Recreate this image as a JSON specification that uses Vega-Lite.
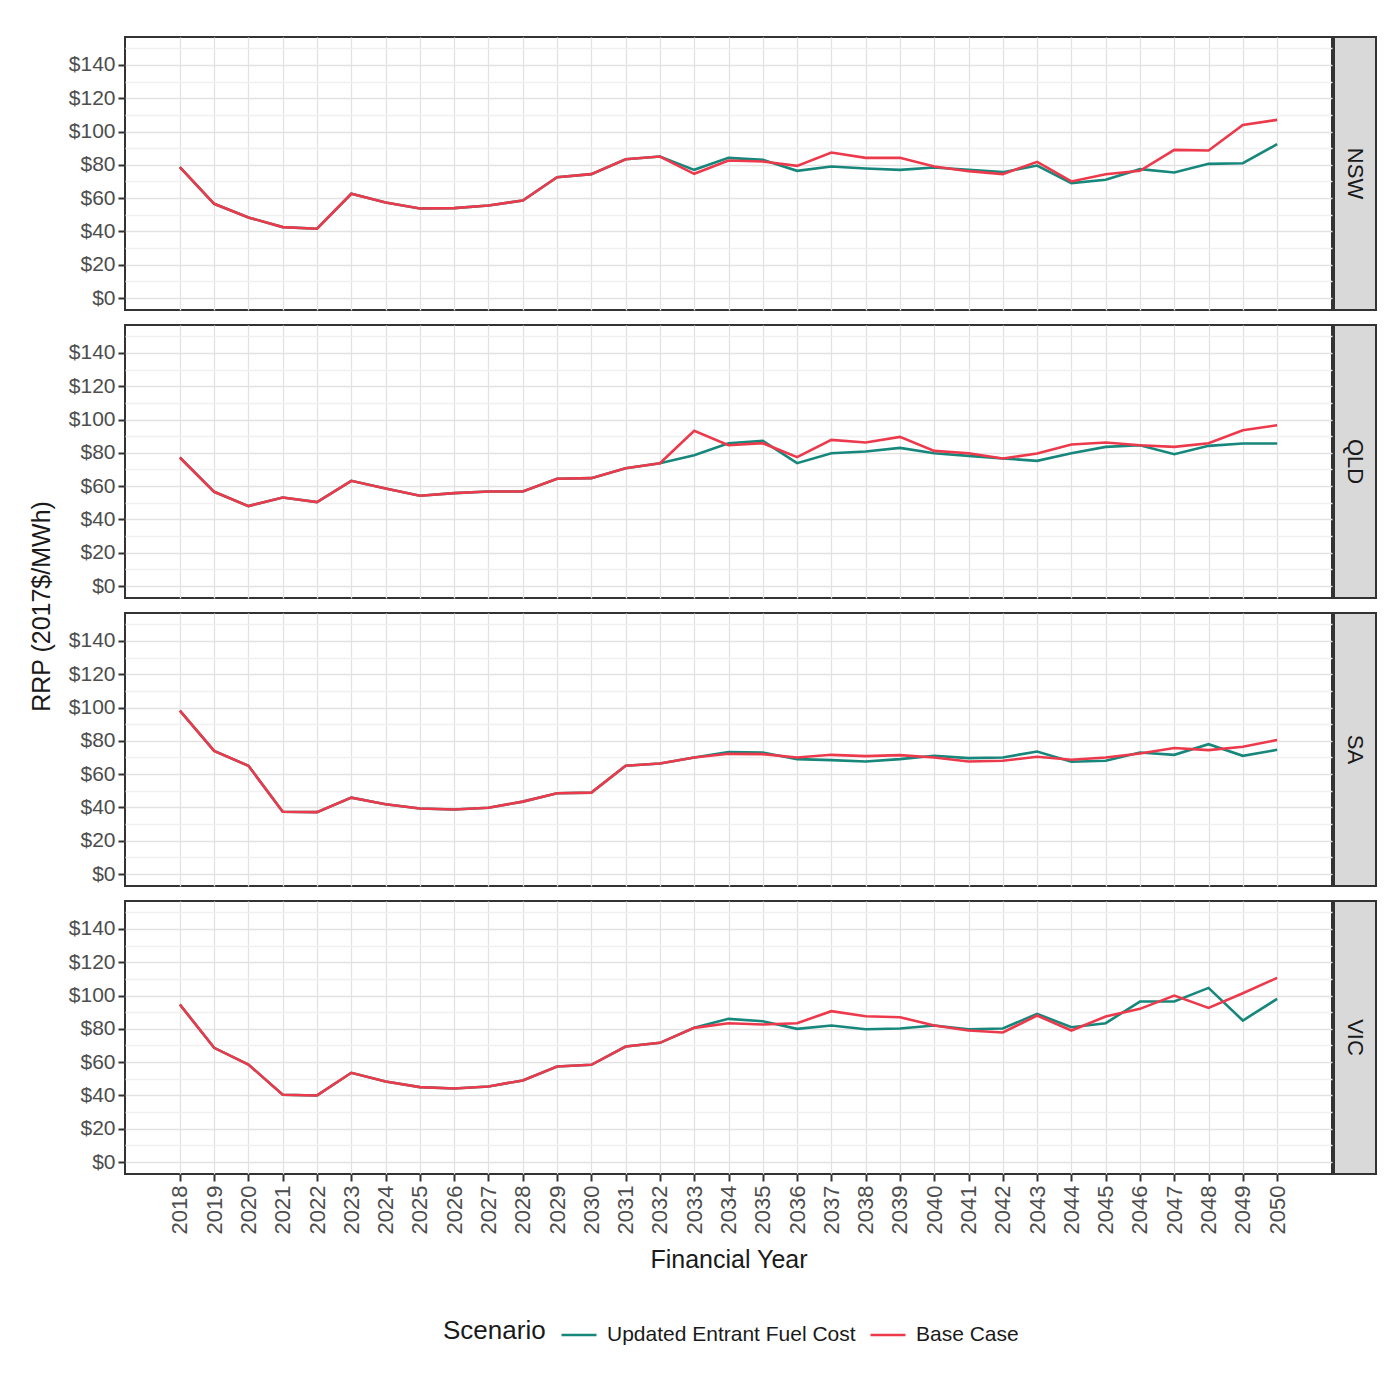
{
  "$schema": "https://vega.github.io/schema/vega-lite/v6.json",
  "background": "white",
  "padding": {"left": 28, "top": 36, "right": 10, "bottom": 10},
  "spacing": 0,
  "datasets": {
    "prices": [
      {"region":"NSW","scenario":"Updated Entrant Fuel Cost","year":2018,"value":78.6},
      {"region":"NSW","scenario":"Updated Entrant Fuel Cost","year":2019,"value":56.6},
      {"region":"NSW","scenario":"Updated Entrant Fuel Cost","year":2020,"value":48.4},
      {"region":"NSW","scenario":"Updated Entrant Fuel Cost","year":2021,"value":42.6},
      {"region":"NSW","scenario":"Updated Entrant Fuel Cost","year":2022,"value":41.6},
      {"region":"NSW","scenario":"Updated Entrant Fuel Cost","year":2023,"value":62.6},
      {"region":"NSW","scenario":"Updated Entrant Fuel Cost","year":2024,"value":57.4},
      {"region":"NSW","scenario":"Updated Entrant Fuel Cost","year":2025,"value":53.8},
      {"region":"NSW","scenario":"Updated Entrant Fuel Cost","year":2026,"value":54.0},
      {"region":"NSW","scenario":"Updated Entrant Fuel Cost","year":2027,"value":55.6},
      {"region":"NSW","scenario":"Updated Entrant Fuel Cost","year":2028,"value":58.6},
      {"region":"NSW","scenario":"Updated Entrant Fuel Cost","year":2029,"value":72.6},
      {"region":"NSW","scenario":"Updated Entrant Fuel Cost","year":2030,"value":74.4},
      {"region":"NSW","scenario":"Updated Entrant Fuel Cost","year":2031,"value":83.4},
      {"region":"NSW","scenario":"Updated Entrant Fuel Cost","year":2032,"value":85.0},
      {"region":"NSW","scenario":"Updated Entrant Fuel Cost","year":2033,"value":77.0},
      {"region":"NSW","scenario":"Updated Entrant Fuel Cost","year":2034,"value":84.2},
      {"region":"NSW","scenario":"Updated Entrant Fuel Cost","year":2035,"value":83.0},
      {"region":"NSW","scenario":"Updated Entrant Fuel Cost","year":2036,"value":76.4},
      {"region":"NSW","scenario":"Updated Entrant Fuel Cost","year":2037,"value":79.0},
      {"region":"NSW","scenario":"Updated Entrant Fuel Cost","year":2038,"value":77.8},
      {"region":"NSW","scenario":"Updated Entrant Fuel Cost","year":2039,"value":77.0},
      {"region":"NSW","scenario":"Updated Entrant Fuel Cost","year":2040,"value":78.4},
      {"region":"NSW","scenario":"Updated Entrant Fuel Cost","year":2041,"value":77.0},
      {"region":"NSW","scenario":"Updated Entrant Fuel Cost","year":2042,"value":75.6},
      {"region":"NSW","scenario":"Updated Entrant Fuel Cost","year":2043,"value":79.6},
      {"region":"NSW","scenario":"Updated Entrant Fuel Cost","year":2044,"value":69.0},
      {"region":"NSW","scenario":"Updated Entrant Fuel Cost","year":2045,"value":71.0},
      {"region":"NSW","scenario":"Updated Entrant Fuel Cost","year":2046,"value":77.4},
      {"region":"NSW","scenario":"Updated Entrant Fuel Cost","year":2047,"value":75.4},
      {"region":"NSW","scenario":"Updated Entrant Fuel Cost","year":2048,"value":80.6},
      {"region":"NSW","scenario":"Updated Entrant Fuel Cost","year":2049,"value":81.0},
      {"region":"NSW","scenario":"Updated Entrant Fuel Cost","year":2050,"value":92.4},
      {"region":"QLD","scenario":"Updated Entrant Fuel Cost","year":2018,"value":77.2},
      {"region":"QLD","scenario":"Updated Entrant Fuel Cost","year":2019,"value":56.6},
      {"region":"QLD","scenario":"Updated Entrant Fuel Cost","year":2020,"value":48.0},
      {"region":"QLD","scenario":"Updated Entrant Fuel Cost","year":2021,"value":53.2},
      {"region":"QLD","scenario":"Updated Entrant Fuel Cost","year":2022,"value":50.4},
      {"region":"QLD","scenario":"Updated Entrant Fuel Cost","year":2023,"value":63.2},
      {"region":"QLD","scenario":"Updated Entrant Fuel Cost","year":2024,"value":58.6},
      {"region":"QLD","scenario":"Updated Entrant Fuel Cost","year":2025,"value":54.2},
      {"region":"QLD","scenario":"Updated Entrant Fuel Cost","year":2026,"value":55.8},
      {"region":"QLD","scenario":"Updated Entrant Fuel Cost","year":2027,"value":56.8},
      {"region":"QLD","scenario":"Updated Entrant Fuel Cost","year":2028,"value":56.8},
      {"region":"QLD","scenario":"Updated Entrant Fuel Cost","year":2029,"value":64.4},
      {"region":"QLD","scenario":"Updated Entrant Fuel Cost","year":2030,"value":64.8},
      {"region":"QLD","scenario":"Updated Entrant Fuel Cost","year":2031,"value":70.8},
      {"region":"QLD","scenario":"Updated Entrant Fuel Cost","year":2032,"value":73.8},
      {"region":"QLD","scenario":"Updated Entrant Fuel Cost","year":2033,"value":78.6},
      {"region":"QLD","scenario":"Updated Entrant Fuel Cost","year":2034,"value":85.8},
      {"region":"QLD","scenario":"Updated Entrant Fuel Cost","year":2035,"value":87.2},
      {"region":"QLD","scenario":"Updated Entrant Fuel Cost","year":2036,"value":73.8},
      {"region":"QLD","scenario":"Updated Entrant Fuel Cost","year":2037,"value":79.8},
      {"region":"QLD","scenario":"Updated Entrant Fuel Cost","year":2038,"value":80.8},
      {"region":"QLD","scenario":"Updated Entrant Fuel Cost","year":2039,"value":83.0},
      {"region":"QLD","scenario":"Updated Entrant Fuel Cost","year":2040,"value":79.8},
      {"region":"QLD","scenario":"Updated Entrant Fuel Cost","year":2041,"value":78.2},
      {"region":"QLD","scenario":"Updated Entrant Fuel Cost","year":2042,"value":76.6},
      {"region":"QLD","scenario":"Updated Entrant Fuel Cost","year":2043,"value":75.2},
      {"region":"QLD","scenario":"Updated Entrant Fuel Cost","year":2044,"value":79.8},
      {"region":"QLD","scenario":"Updated Entrant Fuel Cost","year":2045,"value":83.6},
      {"region":"QLD","scenario":"Updated Entrant Fuel Cost","year":2046,"value":84.6},
      {"region":"QLD","scenario":"Updated Entrant Fuel Cost","year":2047,"value":79.2},
      {"region":"QLD","scenario":"Updated Entrant Fuel Cost","year":2048,"value":84.2},
      {"region":"QLD","scenario":"Updated Entrant Fuel Cost","year":2049,"value":85.6},
      {"region":"QLD","scenario":"Updated Entrant Fuel Cost","year":2050,"value":85.6},
      {"region":"SA","scenario":"Updated Entrant Fuel Cost","year":2018,"value":98.2},
      {"region":"SA","scenario":"Updated Entrant Fuel Cost","year":2019,"value":74.0},
      {"region":"SA","scenario":"Updated Entrant Fuel Cost","year":2020,"value":65.0},
      {"region":"SA","scenario":"Updated Entrant Fuel Cost","year":2021,"value":37.4},
      {"region":"SA","scenario":"Updated Entrant Fuel Cost","year":2022,"value":37.2},
      {"region":"SA","scenario":"Updated Entrant Fuel Cost","year":2023,"value":45.9},
      {"region":"SA","scenario":"Updated Entrant Fuel Cost","year":2024,"value":41.9},
      {"region":"SA","scenario":"Updated Entrant Fuel Cost","year":2025,"value":39.4},
      {"region":"SA","scenario":"Updated Entrant Fuel Cost","year":2026,"value":38.8},
      {"region":"SA","scenario":"Updated Entrant Fuel Cost","year":2027,"value":39.8},
      {"region":"SA","scenario":"Updated Entrant Fuel Cost","year":2028,"value":43.5},
      {"region":"SA","scenario":"Updated Entrant Fuel Cost","year":2029,"value":48.5},
      {"region":"SA","scenario":"Updated Entrant Fuel Cost","year":2030,"value":48.9},
      {"region":"SA","scenario":"Updated Entrant Fuel Cost","year":2031,"value":65.0},
      {"region":"SA","scenario":"Updated Entrant Fuel Cost","year":2032,"value":66.4},
      {"region":"SA","scenario":"Updated Entrant Fuel Cost","year":2033,"value":70.0},
      {"region":"SA","scenario":"Updated Entrant Fuel Cost","year":2034,"value":73.3},
      {"region":"SA","scenario":"Updated Entrant Fuel Cost","year":2035,"value":73.0},
      {"region":"SA","scenario":"Updated Entrant Fuel Cost","year":2036,"value":69.0},
      {"region":"SA","scenario":"Updated Entrant Fuel Cost","year":2037,"value":68.4},
      {"region":"SA","scenario":"Updated Entrant Fuel Cost","year":2038,"value":67.6},
      {"region":"SA","scenario":"Updated Entrant Fuel Cost","year":2039,"value":69.0},
      {"region":"SA","scenario":"Updated Entrant Fuel Cost","year":2040,"value":71.0},
      {"region":"SA","scenario":"Updated Entrant Fuel Cost","year":2041,"value":69.6},
      {"region":"SA","scenario":"Updated Entrant Fuel Cost","year":2042,"value":70.0},
      {"region":"SA","scenario":"Updated Entrant Fuel Cost","year":2043,"value":73.6},
      {"region":"SA","scenario":"Updated Entrant Fuel Cost","year":2044,"value":67.4},
      {"region":"SA","scenario":"Updated Entrant Fuel Cost","year":2045,"value":68.0},
      {"region":"SA","scenario":"Updated Entrant Fuel Cost","year":2046,"value":73.0},
      {"region":"SA","scenario":"Updated Entrant Fuel Cost","year":2047,"value":71.6},
      {"region":"SA","scenario":"Updated Entrant Fuel Cost","year":2048,"value":78.0},
      {"region":"SA","scenario":"Updated Entrant Fuel Cost","year":2049,"value":71.0},
      {"region":"SA","scenario":"Updated Entrant Fuel Cost","year":2050,"value":74.6},
      {"region":"VIC","scenario":"Updated Entrant Fuel Cost","year":2018,"value":94.6},
      {"region":"VIC","scenario":"Updated Entrant Fuel Cost","year":2019,"value":68.6},
      {"region":"VIC","scenario":"Updated Entrant Fuel Cost","year":2020,"value":58.6},
      {"region":"VIC","scenario":"Updated Entrant Fuel Cost","year":2021,"value":40.4},
      {"region":"VIC","scenario":"Updated Entrant Fuel Cost","year":2022,"value":40.0},
      {"region":"VIC","scenario":"Updated Entrant Fuel Cost","year":2023,"value":53.6},
      {"region":"VIC","scenario":"Updated Entrant Fuel Cost","year":2024,"value":48.4},
      {"region":"VIC","scenario":"Updated Entrant Fuel Cost","year":2025,"value":45.0},
      {"region":"VIC","scenario":"Updated Entrant Fuel Cost","year":2026,"value":44.2},
      {"region":"VIC","scenario":"Updated Entrant Fuel Cost","year":2027,"value":45.4},
      {"region":"VIC","scenario":"Updated Entrant Fuel Cost","year":2028,"value":49.0},
      {"region":"VIC","scenario":"Updated Entrant Fuel Cost","year":2029,"value":57.4},
      {"region":"VIC","scenario":"Updated Entrant Fuel Cost","year":2030,"value":58.4},
      {"region":"VIC","scenario":"Updated Entrant Fuel Cost","year":2031,"value":69.4},
      {"region":"VIC","scenario":"Updated Entrant Fuel Cost","year":2032,"value":71.6},
      {"region":"VIC","scenario":"Updated Entrant Fuel Cost","year":2033,"value":80.6},
      {"region":"VIC","scenario":"Updated Entrant Fuel Cost","year":2034,"value":86.0},
      {"region":"VIC","scenario":"Updated Entrant Fuel Cost","year":2035,"value":84.6},
      {"region":"VIC","scenario":"Updated Entrant Fuel Cost","year":2036,"value":80.0},
      {"region":"VIC","scenario":"Updated Entrant Fuel Cost","year":2037,"value":82.0},
      {"region":"VIC","scenario":"Updated Entrant Fuel Cost","year":2038,"value":79.8},
      {"region":"VIC","scenario":"Updated Entrant Fuel Cost","year":2039,"value":80.2},
      {"region":"VIC","scenario":"Updated Entrant Fuel Cost","year":2040,"value":82.0},
      {"region":"VIC","scenario":"Updated Entrant Fuel Cost","year":2041,"value":79.8},
      {"region":"VIC","scenario":"Updated Entrant Fuel Cost","year":2042,"value":80.2},
      {"region":"VIC","scenario":"Updated Entrant Fuel Cost","year":2043,"value":89.0},
      {"region":"VIC","scenario":"Updated Entrant Fuel Cost","year":2044,"value":81.0},
      {"region":"VIC","scenario":"Updated Entrant Fuel Cost","year":2045,"value":83.4},
      {"region":"VIC","scenario":"Updated Entrant Fuel Cost","year":2046,"value":96.4},
      {"region":"VIC","scenario":"Updated Entrant Fuel Cost","year":2047,"value":96.4},
      {"region":"VIC","scenario":"Updated Entrant Fuel Cost","year":2048,"value":104.6},
      {"region":"VIC","scenario":"Updated Entrant Fuel Cost","year":2049,"value":85.0},
      {"region":"VIC","scenario":"Updated Entrant Fuel Cost","year":2050,"value":98.0},
      {"region":"NSW","scenario":"Base Case","year":2018,"value":78.6},
      {"region":"NSW","scenario":"Base Case","year":2019,"value":56.6},
      {"region":"NSW","scenario":"Base Case","year":2020,"value":48.4},
      {"region":"NSW","scenario":"Base Case","year":2021,"value":42.6},
      {"region":"NSW","scenario":"Base Case","year":2022,"value":41.6},
      {"region":"NSW","scenario":"Base Case","year":2023,"value":62.6},
      {"region":"NSW","scenario":"Base Case","year":2024,"value":57.4},
      {"region":"NSW","scenario":"Base Case","year":2025,"value":53.8},
      {"region":"NSW","scenario":"Base Case","year":2026,"value":54.0},
      {"region":"NSW","scenario":"Base Case","year":2027,"value":55.6},
      {"region":"NSW","scenario":"Base Case","year":2028,"value":58.6},
      {"region":"NSW","scenario":"Base Case","year":2029,"value":72.6},
      {"region":"NSW","scenario":"Base Case","year":2030,"value":74.4},
      {"region":"NSW","scenario":"Base Case","year":2031,"value":83.4},
      {"region":"NSW","scenario":"Base Case","year":2032,"value":85.0},
      {"region":"NSW","scenario":"Base Case","year":2033,"value":74.6},
      {"region":"NSW","scenario":"Base Case","year":2034,"value":82.6},
      {"region":"NSW","scenario":"Base Case","year":2035,"value":82.0},
      {"region":"NSW","scenario":"Base Case","year":2036,"value":79.4},
      {"region":"NSW","scenario":"Base Case","year":2037,"value":87.4},
      {"region":"NSW","scenario":"Base Case","year":2038,"value":84.2},
      {"region":"NSW","scenario":"Base Case","year":2039,"value":84.2},
      {"region":"NSW","scenario":"Base Case","year":2040,"value":79.0},
      {"region":"NSW","scenario":"Base Case","year":2041,"value":76.2},
      {"region":"NSW","scenario":"Base Case","year":2042,"value":74.4},
      {"region":"NSW","scenario":"Base Case","year":2043,"value":81.8},
      {"region":"NSW","scenario":"Base Case","year":2044,"value":70.0},
      {"region":"NSW","scenario":"Base Case","year":2045,"value":74.4},
      {"region":"NSW","scenario":"Base Case","year":2046,"value":76.4},
      {"region":"NSW","scenario":"Base Case","year":2047,"value":89.0},
      {"region":"NSW","scenario":"Base Case","year":2048,"value":88.6},
      {"region":"NSW","scenario":"Base Case","year":2049,"value":104.0},
      {"region":"NSW","scenario":"Base Case","year":2050,"value":107.0},
      {"region":"QLD","scenario":"Base Case","year":2018,"value":77.2},
      {"region":"QLD","scenario":"Base Case","year":2019,"value":56.6},
      {"region":"QLD","scenario":"Base Case","year":2020,"value":48.0},
      {"region":"QLD","scenario":"Base Case","year":2021,"value":53.2},
      {"region":"QLD","scenario":"Base Case","year":2022,"value":50.4},
      {"region":"QLD","scenario":"Base Case","year":2023,"value":63.2},
      {"region":"QLD","scenario":"Base Case","year":2024,"value":58.6},
      {"region":"QLD","scenario":"Base Case","year":2025,"value":54.2},
      {"region":"QLD","scenario":"Base Case","year":2026,"value":55.8},
      {"region":"QLD","scenario":"Base Case","year":2027,"value":56.8},
      {"region":"QLD","scenario":"Base Case","year":2028,"value":56.8},
      {"region":"QLD","scenario":"Base Case","year":2029,"value":64.4},
      {"region":"QLD","scenario":"Base Case","year":2030,"value":64.8},
      {"region":"QLD","scenario":"Base Case","year":2031,"value":70.8},
      {"region":"QLD","scenario":"Base Case","year":2032,"value":73.8},
      {"region":"QLD","scenario":"Base Case","year":2033,"value":93.2},
      {"region":"QLD","scenario":"Base Case","year":2034,"value":84.6},
      {"region":"QLD","scenario":"Base Case","year":2035,"value":85.8},
      {"region":"QLD","scenario":"Base Case","year":2036,"value":77.4},
      {"region":"QLD","scenario":"Base Case","year":2037,"value":87.8},
      {"region":"QLD","scenario":"Base Case","year":2038,"value":86.2},
      {"region":"QLD","scenario":"Base Case","year":2039,"value":89.6},
      {"region":"QLD","scenario":"Base Case","year":2040,"value":81.2},
      {"region":"QLD","scenario":"Base Case","year":2041,"value":79.8},
      {"region":"QLD","scenario":"Base Case","year":2042,"value":76.6},
      {"region":"QLD","scenario":"Base Case","year":2043,"value":79.6},
      {"region":"QLD","scenario":"Base Case","year":2044,"value":85.0},
      {"region":"QLD","scenario":"Base Case","year":2045,"value":86.2},
      {"region":"QLD","scenario":"Base Case","year":2046,"value":84.6},
      {"region":"QLD","scenario":"Base Case","year":2047,"value":83.6},
      {"region":"QLD","scenario":"Base Case","year":2048,"value":85.8},
      {"region":"QLD","scenario":"Base Case","year":2049,"value":93.6},
      {"region":"QLD","scenario":"Base Case","year":2050,"value":96.6},
      {"region":"SA","scenario":"Base Case","year":2018,"value":98.2},
      {"region":"SA","scenario":"Base Case","year":2019,"value":74.0},
      {"region":"SA","scenario":"Base Case","year":2020,"value":65.0},
      {"region":"SA","scenario":"Base Case","year":2021,"value":37.4},
      {"region":"SA","scenario":"Base Case","year":2022,"value":37.2},
      {"region":"SA","scenario":"Base Case","year":2023,"value":45.9},
      {"region":"SA","scenario":"Base Case","year":2024,"value":41.9},
      {"region":"SA","scenario":"Base Case","year":2025,"value":39.4},
      {"region":"SA","scenario":"Base Case","year":2026,"value":38.8},
      {"region":"SA","scenario":"Base Case","year":2027,"value":39.8},
      {"region":"SA","scenario":"Base Case","year":2028,"value":43.5},
      {"region":"SA","scenario":"Base Case","year":2029,"value":48.5},
      {"region":"SA","scenario":"Base Case","year":2030,"value":48.9},
      {"region":"SA","scenario":"Base Case","year":2031,"value":65.0},
      {"region":"SA","scenario":"Base Case","year":2032,"value":66.4},
      {"region":"SA","scenario":"Base Case","year":2033,"value":70.0},
      {"region":"SA","scenario":"Base Case","year":2034,"value":72.2},
      {"region":"SA","scenario":"Base Case","year":2035,"value":72.0},
      {"region":"SA","scenario":"Base Case","year":2036,"value":70.0},
      {"region":"SA","scenario":"Base Case","year":2037,"value":71.6},
      {"region":"SA","scenario":"Base Case","year":2038,"value":70.8},
      {"region":"SA","scenario":"Base Case","year":2039,"value":71.4},
      {"region":"SA","scenario":"Base Case","year":2040,"value":70.0},
      {"region":"SA","scenario":"Base Case","year":2041,"value":67.6},
      {"region":"SA","scenario":"Base Case","year":2042,"value":68.0},
      {"region":"SA","scenario":"Base Case","year":2043,"value":70.4},
      {"region":"SA","scenario":"Base Case","year":2044,"value":68.6},
      {"region":"SA","scenario":"Base Case","year":2045,"value":70.0},
      {"region":"SA","scenario":"Base Case","year":2046,"value":72.4},
      {"region":"SA","scenario":"Base Case","year":2047,"value":75.7},
      {"region":"SA","scenario":"Base Case","year":2048,"value":74.4},
      {"region":"SA","scenario":"Base Case","year":2049,"value":76.5},
      {"region":"SA","scenario":"Base Case","year":2050,"value":80.5},
      {"region":"VIC","scenario":"Base Case","year":2018,"value":94.6},
      {"region":"VIC","scenario":"Base Case","year":2019,"value":68.6},
      {"region":"VIC","scenario":"Base Case","year":2020,"value":58.6},
      {"region":"VIC","scenario":"Base Case","year":2021,"value":40.4},
      {"region":"VIC","scenario":"Base Case","year":2022,"value":40.0},
      {"region":"VIC","scenario":"Base Case","year":2023,"value":53.6},
      {"region":"VIC","scenario":"Base Case","year":2024,"value":48.4},
      {"region":"VIC","scenario":"Base Case","year":2025,"value":45.0},
      {"region":"VIC","scenario":"Base Case","year":2026,"value":44.2},
      {"region":"VIC","scenario":"Base Case","year":2027,"value":45.4},
      {"region":"VIC","scenario":"Base Case","year":2028,"value":49.0},
      {"region":"VIC","scenario":"Base Case","year":2029,"value":57.4},
      {"region":"VIC","scenario":"Base Case","year":2030,"value":58.4},
      {"region":"VIC","scenario":"Base Case","year":2031,"value":69.4},
      {"region":"VIC","scenario":"Base Case","year":2032,"value":71.6},
      {"region":"VIC","scenario":"Base Case","year":2033,"value":80.6},
      {"region":"VIC","scenario":"Base Case","year":2034,"value":83.4},
      {"region":"VIC","scenario":"Base Case","year":2035,"value":82.6},
      {"region":"VIC","scenario":"Base Case","year":2036,"value":83.4},
      {"region":"VIC","scenario":"Base Case","year":2037,"value":90.6},
      {"region":"VIC","scenario":"Base Case","year":2038,"value":87.6},
      {"region":"VIC","scenario":"Base Case","year":2039,"value":87.0},
      {"region":"VIC","scenario":"Base Case","year":2040,"value":82.0},
      {"region":"VIC","scenario":"Base Case","year":2041,"value":79.0},
      {"region":"VIC","scenario":"Base Case","year":2042,"value":77.8},
      {"region":"VIC","scenario":"Base Case","year":2043,"value":88.0},
      {"region":"VIC","scenario":"Base Case","year":2044,"value":79.0},
      {"region":"VIC","scenario":"Base Case","year":2045,"value":87.4},
      {"region":"VIC","scenario":"Base Case","year":2046,"value":92.0},
      {"region":"VIC","scenario":"Base Case","year":2047,"value":100.0},
      {"region":"VIC","scenario":"Base Case","year":2048,"value":92.6},
      {"region":"VIC","scenario":"Base Case","year":2049,"value":101.4},
      {"region":"VIC","scenario":"Base Case","year":2050,"value":110.6}
    ],
    "strips": [{"region":"NSW"},{"region":"QLD"},{"region":"SA"},{"region":"VIC"}]
  },
  "hconcat": [
    {
      "spacing": 15, "bounds": "flush",
      "vconcat": [
        {
          "width": 1207, "height": 273,
          "data": {"name": "prices"},
          "transform": [{"filter": "datum.region === 'NSW'"}],
          "mark": {"type": "line", "strokeWidth": 2.6, "clip": true},
          "encoding": {
            "x": {"field": "year", "type": "quantitative", "scale": {"domain": [2016.4, 2051.6], "nice": false, "zero": false},
                  "axis": {"values": [2018,2019,2020,2021,2022,2023,2024,2025,2026,2027,2028,2029,2030,2031,2032,2033,2034,2035,2036,2037,2038,2039,2040,2041,2042,2043,2044,2045,2046,2047,2048,2049,2050], "labels": false, "ticks": false, "domain": false, "title": null, "grid": true}},
            "y": {"field": "value", "type": "quantitative", "scale": {"domain": [-7.2, 156.8], "nice": false, "zero": false},
                  "axis": {"values": [0,10,20,30,40,50,60,70,80,90,100,110,120,130,140,150], "labelExpr": "datum.value % 20 === 0 ? '$' + datum.value : ''", "labelOverlap": false, "gridColor": {"condition": {"test": "datum.value % 20 !== 0", "value": "#f0f0f0"}, "value": "#e2e2e2"}, "tickOpacity": {"condition": {"test": "datum.value % 20 !== 0", "value": 0}, "value": 1}, "domain": false, "title": null}},
            "color": {"field": "scenario", "type": "nominal", "scale": {"domain": ["Updated Entrant Fuel Cost", "Base Case"], "range": ["#17877b", "#ec3a4c"]},
                      "legend": {"orient": "none", "legendX": 318, "legendY": 1279, "direction": "horizontal", "titleOrient": "left", "title": "Scenario"}}
          }
        },
        {
          "width": 1207, "height": 273,
          "data": {"name": "prices"},
          "transform": [{"filter": "datum.region === 'QLD'"}],
          "mark": {"type": "line", "strokeWidth": 2.6, "clip": true},
          "encoding": {
            "x": {"field": "year", "type": "quantitative", "scale": {"domain": [2016.4, 2051.6], "nice": false, "zero": false},
                  "axis": {"values": [2018,2019,2020,2021,2022,2023,2024,2025,2026,2027,2028,2029,2030,2031,2032,2033,2034,2035,2036,2037,2038,2039,2040,2041,2042,2043,2044,2045,2046,2047,2048,2049,2050], "labels": false, "ticks": false, "domain": false, "title": null, "grid": true}},
            "y": {"field": "value", "type": "quantitative", "scale": {"domain": [-7.2, 156.8], "nice": false, "zero": false},
                  "axis": {"values": [0,10,20,30,40,50,60,70,80,90,100,110,120,130,140,150], "labelExpr": "datum.value % 20 === 0 ? '$' + datum.value : ''", "labelOverlap": false, "gridColor": {"condition": {"test": "datum.value % 20 !== 0", "value": "#f0f0f0"}, "value": "#e2e2e2"}, "tickOpacity": {"condition": {"test": "datum.value % 20 !== 0", "value": 0}, "value": 1}, "domain": false, "title": "RRP (2017$/MWh)", "titleY": 281, "titlePadding": 14}},
            "color": {"field": "scenario", "type": "nominal", "scale": {"domain": ["Updated Entrant Fuel Cost", "Base Case"], "range": ["#17877b", "#ec3a4c"]},
                      "legend": {"orient": "none", "legendX": 318, "legendY": 1279, "direction": "horizontal", "titleOrient": "left", "title": "Scenario"}}
          }
        },
        {
          "width": 1207, "height": 273,
          "data": {"name": "prices"},
          "transform": [{"filter": "datum.region === 'SA'"}],
          "mark": {"type": "line", "strokeWidth": 2.6, "clip": true},
          "encoding": {
            "x": {"field": "year", "type": "quantitative", "scale": {"domain": [2016.4, 2051.6], "nice": false, "zero": false},
                  "axis": {"values": [2018,2019,2020,2021,2022,2023,2024,2025,2026,2027,2028,2029,2030,2031,2032,2033,2034,2035,2036,2037,2038,2039,2040,2041,2042,2043,2044,2045,2046,2047,2048,2049,2050], "labels": false, "ticks": false, "domain": false, "title": null, "grid": true}},
            "y": {"field": "value", "type": "quantitative", "scale": {"domain": [-7.2, 156.8], "nice": false, "zero": false},
                  "axis": {"values": [0,10,20,30,40,50,60,70,80,90,100,110,120,130,140,150], "labelExpr": "datum.value % 20 === 0 ? '$' + datum.value : ''", "labelOverlap": false, "gridColor": {"condition": {"test": "datum.value % 20 !== 0", "value": "#f0f0f0"}, "value": "#e2e2e2"}, "tickOpacity": {"condition": {"test": "datum.value % 20 !== 0", "value": 0}, "value": 1}, "domain": false, "title": null}},
            "color": {"field": "scenario", "type": "nominal", "scale": {"domain": ["Updated Entrant Fuel Cost", "Base Case"], "range": ["#17877b", "#ec3a4c"]},
                      "legend": {"orient": "none", "legendX": 318, "legendY": 1279, "direction": "horizontal", "titleOrient": "left", "title": "Scenario"}}
          }
        },
        {
          "width": 1207, "height": 273,
          "data": {"name": "prices"},
          "transform": [{"filter": "datum.region === 'VIC'"}],
          "mark": {"type": "line", "strokeWidth": 2.6, "clip": true},
          "encoding": {
            "x": {"field": "year", "type": "quantitative", "scale": {"domain": [2016.4, 2051.6], "nice": false, "zero": false},
                  "axis": {"values": [2018,2019,2020,2021,2022,2023,2024,2025,2026,2027,2028,2029,2030,2031,2032,2033,2034,2035,2036,2037,2038,2039,2040,2041,2042,2043,2044,2045,2046,2047,2048,2049,2050], "format": "d", "labelAngle": 270, "labelOverlap": false, "labelFlush": false, "labelPadding": 4, "domain": false, "grid": true, "title": "Financial Year", "titlePadding": 14, "labelFontSize": 22}},
            "y": {"field": "value", "type": "quantitative", "scale": {"domain": [-7.2, 156.8], "nice": false, "zero": false},
                  "axis": {"values": [0,10,20,30,40,50,60,70,80,90,100,110,120,130,140,150], "labelExpr": "datum.value % 20 === 0 ? '$' + datum.value : ''", "labelOverlap": false, "gridColor": {"condition": {"test": "datum.value % 20 !== 0", "value": "#f0f0f0"}, "value": "#e2e2e2"}, "tickOpacity": {"condition": {"test": "datum.value % 20 !== 0", "value": 0}, "value": 1}, "domain": false, "title": null}},
            "color": {"field": "scenario", "type": "nominal", "scale": {"domain": ["Updated Entrant Fuel Cost", "Base Case"], "range": ["#17877b", "#ec3a4c"]},
                      "legend": {"orient": "none", "legendX": 318, "legendY": 1279, "direction": "horizontal", "titleOrient": "left", "title": "Scenario"}}
          }
        }
      ]
    },
    {
      "spacing": 15, "bounds": "flush",
      "vconcat": [
        {
          "width": 42, "height": 273,
          "data": {"name": "strips"},
          "transform": [{"filter": "datum.region === 'NSW'"}],
          "view": {"fill": "#d9d9d9", "stroke": "#333333", "strokeWidth": 2},
          "mark": {"type": "text", "angle": 90, "fontSize": 22, "color": "#1a1a1a", "font": "Liberation Sans"},
          "encoding": {
            "x": {"field": "region", "type": "nominal", "axis": null},
            "y": {"field": "region", "type": "nominal", "axis": null},
            "text": {"field": "region", "type": "nominal"}
          }
        },
        {
          "width": 42, "height": 273,
          "data": {"name": "strips"},
          "transform": [{"filter": "datum.region === 'QLD'"}],
          "view": {"fill": "#d9d9d9", "stroke": "#333333", "strokeWidth": 2},
          "mark": {"type": "text", "angle": 90, "fontSize": 22, "color": "#1a1a1a", "font": "Liberation Sans"},
          "encoding": {
            "x": {"field": "region", "type": "nominal", "axis": null},
            "y": {"field": "region", "type": "nominal", "axis": null},
            "text": {"field": "region", "type": "nominal"}
          }
        },
        {
          "width": 42, "height": 273,
          "data": {"name": "strips"},
          "transform": [{"filter": "datum.region === 'SA'"}],
          "view": {"fill": "#d9d9d9", "stroke": "#333333", "strokeWidth": 2},
          "mark": {"type": "text", "angle": 90, "fontSize": 22, "color": "#1a1a1a", "font": "Liberation Sans"},
          "encoding": {
            "x": {"field": "region", "type": "nominal", "axis": null},
            "y": {"field": "region", "type": "nominal", "axis": null},
            "text": {"field": "region", "type": "nominal"}
          }
        },
        {
          "width": 42, "height": 273,
          "data": {"name": "strips"},
          "transform": [{"filter": "datum.region === 'VIC'"}],
          "view": {"fill": "#d9d9d9", "stroke": "#333333", "strokeWidth": 2},
          "mark": {"type": "text", "angle": 90, "fontSize": 22, "color": "#1a1a1a", "font": "Liberation Sans"},
          "encoding": {
            "x": {"field": "region", "type": "nominal", "axis": null},
            "y": {"field": "region", "type": "nominal", "axis": null},
            "text": {"field": "region", "type": "nominal"}
          }
        }
      ]
    }
  ],
  "config": {
    "font": "Liberation Sans",
    "view": {"stroke": "#333333", "strokeWidth": 2},
    "axis": {
      "labelFont": "Liberation Sans", "labelFontSize": 21, "labelColor": "#4d4d4d", "labelPadding": 3,
      "titleFont": "Liberation Sans", "titleFontSize": 25, "titleFontWeight": "normal", "titleColor": "#1a1a1a",
      "tickColor": "#333333", "tickSize": 7, "tickWidth": 2,
      "gridColor": "#e2e2e2", "gridWidth": 1.3
    },
    "legend": {
      "titleFont": "Liberation Sans", "titleFontSize": 26, "titleFontWeight": "normal", "titleColor": "#1a1a1a", "titlePadding": 14,
      "labelFont": "Liberation Sans", "labelFontSize": 21, "labelColor": "#1a1a1a", "labelOffset": 9, "labelLimit": 400,
      "symbolType": "stroke", "symbolSize": 1225, "symbolStrokeWidth": 2.5, "columnPadding": 9
    }
  }
}
